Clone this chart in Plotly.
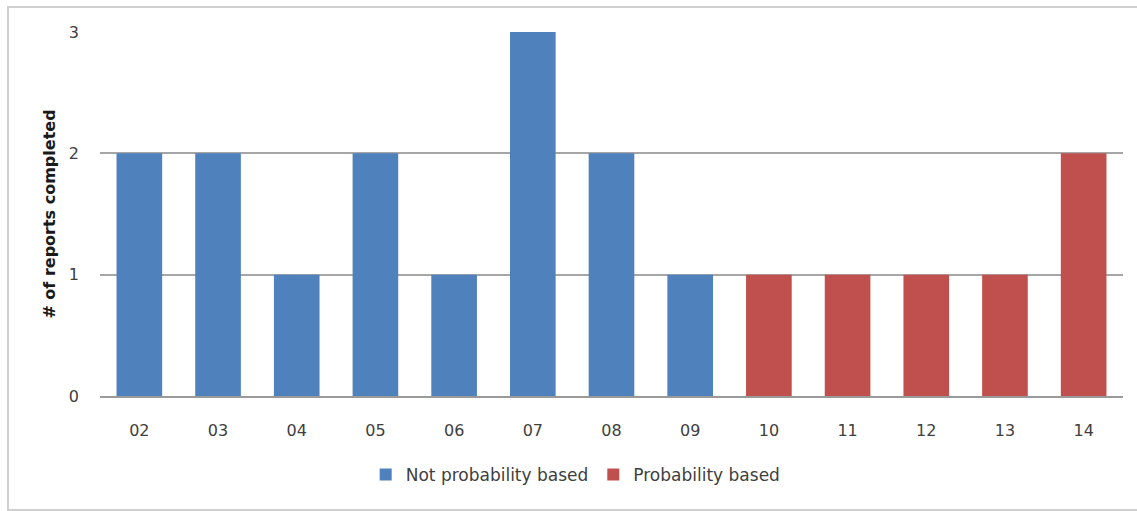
import plotly.graph_objects as go

# Report counts by year (two-digit year labels)
years_nonprob = ["02", "03", "04", "05", "06", "07", "08", "09"]
counts_nonprob = [2, 2, 1, 2, 1, 3, 2, 1]
years_prob = ["10", "11", "12", "13", "14"]
counts_prob = [1, 1, 1, 1, 2]
all_years = years_nonprob + years_prob
y_ticks = [0, 1, 2, 3]

BLUE = "#4F81BD"
RED = "#C0504D"
FONT = "DejaVu Sans, Verdana, sans-serif"

fig = go.Figure()
fig.add_trace(go.Bar(x=years_nonprob, y=counts_nonprob, name="Not probability based",
                     marker=dict(color=BLUE, line=dict(width=0))))
fig.add_trace(go.Bar(x=years_prob, y=counts_prob, name="Probability based",
                     marker=dict(color=RED, line=dict(width=0))))

L, R, T, B = 100, 14, 32, 115
W, H = 1137, 511
pw, ph = W - L - R, H - T - B

def px_x(px):
    return (px - L) / pw

def px_y(py):
    return (H - B - py) / ph

fig.update_layout(
    width=W, height=H,
    margin=dict(l=L, r=R, t=T, b=B),
    paper_bgcolor="white", plot_bgcolor="white",
    barmode="overlay", bargap=0.42,
    font=dict(family=FONT, size=16, color="#404040"),
    showlegend=True,
    legend=dict(orientation="h", x=0.465, xanchor="center", y=px_y(475), yanchor="middle",
                font=dict(size=17, color="#404040"), itemwidth=30,
                traceorder="normal"),
    xaxis=dict(categoryorder="array", categoryarray=all_years, type="category",
               showgrid=False, showline=True, linecolor="#9a9a9a", linewidth=2,
               ticks="", ticklabelstandoff=19,
               tickfont=dict(size=16, color="#404040")),
    yaxis=dict(range=[0, 3], tickvals=y_ticks, showgrid=True, gridcolor="#a6a6a6",
               gridwidth=2, zeroline=False, showline=False, ticks="",
               ticklabelstandoff=20,
               tickfont=dict(size=16, color="#404040")),
    shapes=[dict(type="rect", xref="paper", yref="paper",
                 x0=px_x(8), x1=px_x(1140), y0=px_y(7), y1=px_y(510),
                 line=dict(color="#d0d0d0", width=2), fillcolor="rgba(0,0,0,0)",
                 layer="below")],
)
fig.update_yaxes(title=dict(text="<b># of reports completed</b>", standoff=9,
                            font=dict(size=16, color="#1a1a1a")))

fig.write_html("out.html")
